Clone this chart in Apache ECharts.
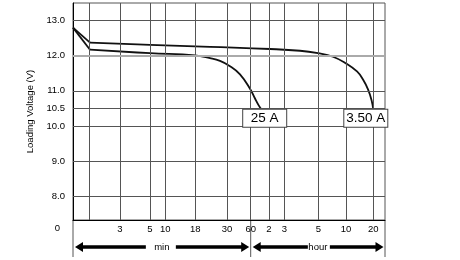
<!DOCTYPE html>
<html><head><meta charset="utf-8">
<script src="https://cdn.jsdelivr.net/npm/echarts@6/dist/echarts.min.js"></script>
<style>html,body{margin:0;padding:0;background:#fff}#c{width:460px;height:260px}</style>
</head><body><div id="c"></div>
<script>
// ---- data (x in the chart's own non-uniform time-scale units) ----
const xTickPos    = [16, 47, 77, 92.3, 122.3, 154, 177.7, 196, 211.3, 245.3, 273, 300.3];
const xTickLabels = ['', '3', '5', '10', '18', '30', '60', '2', '3', '5', '10', '20'];
const yTicks      = [8, 9, 10, 10.5, 11, 12, 13];
const yZeroLabel  = '0';
const seriesNames = ['3.50 A', '25 A'];
const xUpper = [0, 17, 77, 137, 197, 227, 245, 260, 273, 284, 290, 295, 298.5, 300.3];
const vUpper = [12.80, 12.37, 12.31, 12.25, 12.19, 12.14, 12.07, 11.97, 11.78, 11.55, 11.32, 11.04, 10.74, 10.46];
const xLower = [0, 17, 77, 122, 137, 147, 157, 167, 177, 182, 186, 188.7];
const vLower = [12.80, 12.17, 12.07, 12.01, 11.93, 11.85, 11.70, 11.47, 11.06, 10.78, 10.57, 10.46];
const unitGroups = [{name: 'min', from: 0, to: 177.7}, {name: 'hour', from: 177.7, to: 312}];
const X_MIN = 0, X_MAX = 312, Y_MIN = 7.32, Y_MAX = 13.5;

const FONT = "'Liberation Sans Narrow', 'Liberation Sans', Arial, sans-serif";
const chart = echarts.init(document.getElementById('c'), null, {renderer: 'canvas'});
const pairs = (xs, vs) => xs.map((x, i) => [x, vs[i]]);

function curve(name, xs, vs, offX) {
  const d = pairs(xs, vs);
  const line = {color: '#111', width: 1.8};
  return [
    {type: 'line', name: name, data: d.slice(0, 2), z: 3, showSymbol: false, silent: true, lineStyle: line},
    {type: 'line', name: name, data: d.slice(1), z: 3, showSymbol: false, smooth: 0.45, silent: true, lineStyle: line,
     markPoint: {
       silent: true, symbol: 'circle', symbolSize: 0.01, itemStyle: {color: 'transparent'},
       data: [{coord: d[d.length - 1], value: name}],
       label: {
         show: true, position: 'bottom', distance: 0, offset: [offX, 0], formatter: name,
         backgroundColor: '#fff', borderColor: '#444', borderWidth: 1, padding: [2, 4, 1, 4],
         width: 35, align: 'center', color: '#000', fontSize: 13.5, lineHeight: 14, fontFamily: FONT
       }
     }}
  ];
}

const gridH = yTicks.filter(v => v !== 12);
chart.setOption({
  animation: false,
  grid: {left: 73, right: 75, top: 3, bottom: 40, show: true, borderColor: '#555', borderWidth: 1},
  xAxis: {
    type: 'value', min: X_MIN, max: X_MAX,
    axisLine: {show: true, onZero: false, lineStyle: {color: '#000', width: 1}},
    axisTick: {show: false}, splitLine: {show: false},
    axisLabel: {customValues: xTickPos, formatter: v => { const i = xTickPos.indexOf(v); return i >= 0 ? xTickLabels[i] : ''; },
      color: '#000', fontSize: 9.5, fontFamily: FONT, margin: 4}
  },
  yAxis: {
    type: 'value', min: Y_MIN, max: Y_MAX,
    name: 'Loading Voltage (V)', nameLocation: 'middle', nameGap: 38,
    nameTextStyle: {color: '#000', fontSize: 9.5, fontFamily: FONT},
    axisLine: {show: true, lineStyle: {color: '#000', width: 1}},
    axisTick: {show: false}, splitLine: {show: false},
    axisLabel: {customValues: yTicks, formatter: v => v.toFixed(1), color: '#000', fontSize: 9.5, fontFamily: FONT, margin: 8}
  },
  series: [
    {type: 'line', data: [], z: 1, silent: true,
     markLine: {silent: true, symbol: 'none', animation: false, label: {show: false},
       lineStyle: {type: 'solid', color: '#555', width: 1},
       data: [...xTickPos.map(v => ({xAxis: v})), ...gridH.map(v => ({yAxis: v})),
              {yAxis: 12, lineStyle: {type: 'solid', color: '#aaa', width: 2}}]}},
    ...curve(seriesNames[0], xUpper, vUpper, -7.5),
    ...curve(seriesNames[1], xLower, vLower, 3)
  ]
});

// ---- decorations below the axis: unit bands with arrows ----
const px = x => chart.convertToPixel({gridIndex: 0}, [x, Y_MIN])[0];
const yAxisPx = chart.convertToPixel({gridIndex: 0}, [0, Y_MIN])[1];
const AY = yAxisPx + 27, EXT = yAxisPx + 37;
const gaps = [[16, 14], [10, 12]];
const g = [];
const bounds = [unitGroups[0].from, unitGroups[0].to, unitGroups[1].to];
bounds.forEach(b => g.push({type: 'line', shape: {x1: px(b), y1: yAxisPx, x2: px(b), y2: EXT}, style: {stroke: '#555', lineWidth: 1}}));
function arrow(tip, end, dir) {
  const b = tip + dir * 8;
  return {type: 'polygon', shape: {points: [[tip, AY], [b, AY - 5], [b, AY - 1.8], [end, AY - 1.8], [end, AY + 1.8], [b, AY + 1.8], [b, AY + 5]]}, style: {fill: '#000'}};
}
unitGroups.forEach((u, i) => {
  const a = px(u.from), bb = px(u.to), cx = (a + bb) / 2;
  g.push({type: 'text', x: cx, y: AY, style: {text: u.name, fill: '#000', font: '9.5px ' + FONT, align: 'center', verticalAlign: 'middle'}});
  g.push(arrow(a + 2, cx - gaps[i][0], 1));
  g.push(arrow(bb - 1.5, cx + gaps[i][1], -1));
});
g.push({type: 'text', x: px(X_MIN) - 15.5, y: yAxisPx + 8, style: {text: yZeroLabel, fill: '#000', font: '9.5px ' + FONT, align: 'center', verticalAlign: 'middle'}});
chart.setOption({graphic: g});
</script>
</body></html>
